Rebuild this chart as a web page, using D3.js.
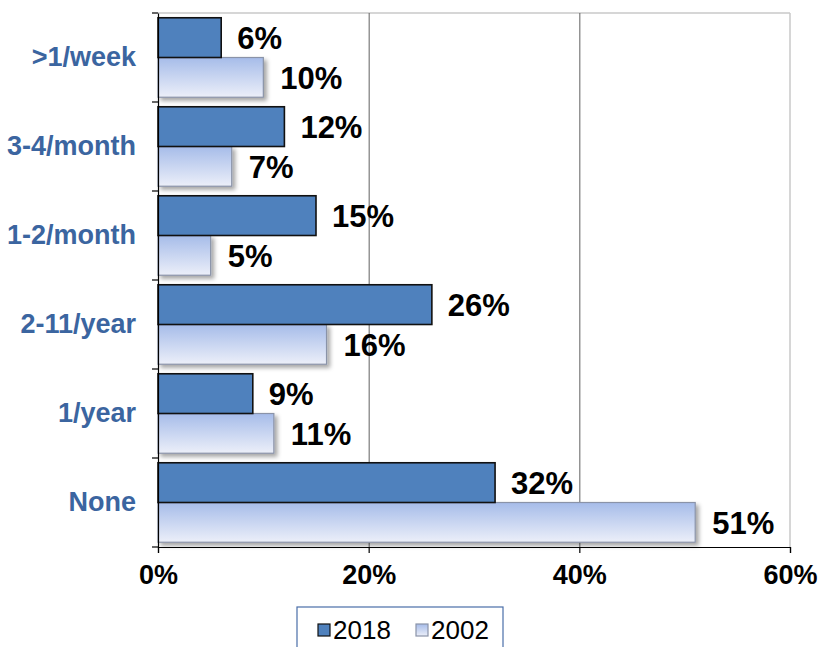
<!DOCTYPE html>
<html>
<head>
<meta charset="utf-8">
<script src="https://cdn.jsdelivr.net/npm/d3@7"></script>
<style>
  html, body { margin: 0; padding: 0; background: #fff; }
  svg { display: block; font-family: "Liberation Sans", Arial, sans-serif; }
</style>
</head>
<body>
<svg id="chart" width="820" height="647"></svg>
<script>
// Visit frequency by category, share of respondents (%)
const categories = [">1/week", "3-4/month", "1-2/month", "2-11/year", "1/year", "None"];
const seriesNames = ["2018", "2002"];
const values2018 = [6, 12, 15, 26, 9, 32];
const values2002 = [10, 7, 5, 16, 11, 51];
const xTicks = [0, 20, 40, 60];

const svg = d3.select("#chart");
const plot = { left: 158, right: 790, top: 13, bottom: 547 };

const x = d3.scaleLinear().domain([0, 60]).range([plot.left, plot.right]);
const y = d3.scaleBand().domain(categories).range([plot.top, plot.bottom]).padding(0);
const ySub = d3.scaleBand().domain(seriesNames).range([0, y.bandwidth()])
  .paddingInner(0).paddingOuter(0.12);

const defs = svg.append("defs");
const grad = defs.append("linearGradient").attr("id", "lightFill")
  .attr("x1", 0).attr("y1", 0).attr("x2", 0).attr("y2", 1);
grad.append("stop").attr("offset", "0%").attr("stop-color", "#a6bce9");
grad.append("stop").attr("offset", "100%").attr("stop-color", "#eceff9");

const shadow = defs.append("filter").attr("id", "shadow")
  .attr("x", "-10%").attr("y", "-20%").attr("width", "130%").attr("height", "160%");
shadow.append("feDropShadow").attr("dx", 3).attr("dy", 3).attr("stdDeviation", 2)
  .attr("flood-color", "#000").attr("flood-opacity", 0.35);

// plot frame: top and right edges in light gray
svg.append("line").attr("x1", plot.left).attr("x2", plot.right)
  .attr("y1", plot.top).attr("y2", plot.top)
  .attr("stroke", "#c8c8c8").attr("stroke-width", 1.5);
svg.append("line").attr("x1", plot.right).attr("x2", plot.right)
  .attr("y1", plot.top).attr("y2", plot.bottom)
  .attr("stroke", "#c8c8c8").attr("stroke-width", 1.5);

// vertical gridlines
svg.append("g").selectAll("line").data(xTicks.slice(1, -1)).join("line")
  .attr("x1", d => x(d) + 0.5).attr("x2", d => x(d) + 0.5)
  .attr("y1", plot.top).attr("y2", plot.bottom)
  .attr("stroke", "#606060").attr("stroke-width", 1);

const rows = categories.map((c, i) => ({ cat: c, v2018: values2018[i], v2002: values2002[i] }));

// 2002 bars (gradient with drop shadow)
svg.append("g").selectAll("rect").data(rows).join("rect")
  .attr("x", x(0))
  .attr("y", d => y(d.cat) + ySub("2002"))
  .attr("width", d => x(d.v2002) - x(0))
  .attr("height", ySub.bandwidth())
  .attr("fill", "url(#lightFill)")
  .attr("stroke", "#8a93a8").attr("stroke-width", 1.2)
  .attr("filter", "url(#shadow)");

// 2018 bars
svg.append("g").selectAll("rect").data(rows).join("rect")
  .attr("x", x(0))
  .attr("y", d => y(d.cat) + ySub("2018"))
  .attr("width", d => x(d.v2018) - x(0))
  .attr("height", ySub.bandwidth())
  .attr("fill", "#4f81bd")
  .attr("stroke", "#111").attr("stroke-width", 1.6);

// value labels
const lab = svg.append("g").attr("font-weight", "bold").attr("font-size", 31)
  .attr("fill", "#000");
lab.selectAll("text.l18").data(rows).join("text").attr("class", "l18")
  .attr("x", d => x(d.v2018) + 16)
  .attr("y", d => y(d.cat) + ySub("2018") + ySub.bandwidth() / 2)
  .attr("dy", "0.36em")
  .text(d => d.v2018 + "%");
lab.selectAll("text.l02").data(rows).join("text").attr("class", "l02")
  .attr("x", d => x(d.v2002) + 17)
  .attr("y", d => y(d.cat) + ySub("2002") + ySub.bandwidth() / 2)
  .attr("dy", "0.36em")
  .text(d => d.v2002 + "%");

// left axis with category labels
const yAxis = d3.axisLeft(y).tickSize(0).tickPadding(22);
const gy = svg.append("g").attr("transform", `translate(${plot.left},0)`).call(yAxis);
gy.select(".domain").attr("stroke", "#000").attr("stroke-width", 1.2);
gy.selectAll(".tick text")
  .attr("font-family", "Liberation Sans, Arial, sans-serif")
  .attr("font-size", 27).attr("font-weight", "bold").attr("fill", "#3b65a0");
// ticks between categories
const bounds = categories.map(c => y(c)).concat([plot.bottom]);
svg.append("g").selectAll("line").data(bounds).join("line")
  .attr("x1", plot.left - 6).attr("x2", plot.left)
  .attr("y1", d => d).attr("y2", d => d)
  .attr("stroke", "#000").attr("stroke-width", 1.2);

// bottom axis
const xAxis = d3.axisBottom(x).tickValues(xTicks).tickFormat(d => d + "%")
  .tickSize(6).tickPadding(12);
const gx = svg.append("g").attr("transform", `translate(0,${plot.bottom})`).call(xAxis);
gx.select(".domain").attr("stroke", "#000").attr("stroke-width", 1.2);
gx.selectAll(".tick line").attr("stroke", "#000").attr("stroke-width", 1.2);
gx.selectAll(".tick text")
  .attr("font-family", "Liberation Sans, Arial, sans-serif")
  .attr("font-size", 27).attr("font-weight", "bold").attr("fill", "#000");

// legend
const legend = svg.append("g").attr("transform", "translate(297,607)");
legend.append("rect").attr("x", 0).attr("y", 0).attr("width", 206).attr("height", 50)
  .attr("fill", "#fff").attr("stroke", "#4a6ea8").attr("stroke-width", 1.2);
const legendItems = [
  { name: seriesNames[0], fill: "#4f81bd", stroke: "#111", x: 21 },
  { name: seriesNames[1], fill: "url(#lightFill)", stroke: "#8a93a8", x: 119 }
];
const li = legend.selectAll("g.item").data(legendItems).join("g").attr("class", "item")
  .attr("transform", d => `translate(${d.x},0)`);
li.append("rect").attr("x", 0).attr("y", 17).attr("width", 12).attr("height", 12)
  .attr("fill", d => d.fill).attr("stroke", d => d.stroke).attr("stroke-width", 1.2);
li.append("text").attr("x", 15).attr("y", 23).attr("dy", "0.36em")
  .attr("font-size", 26).attr("fill", "#000").text(d => d.name);
</script>
</body>
</html>
